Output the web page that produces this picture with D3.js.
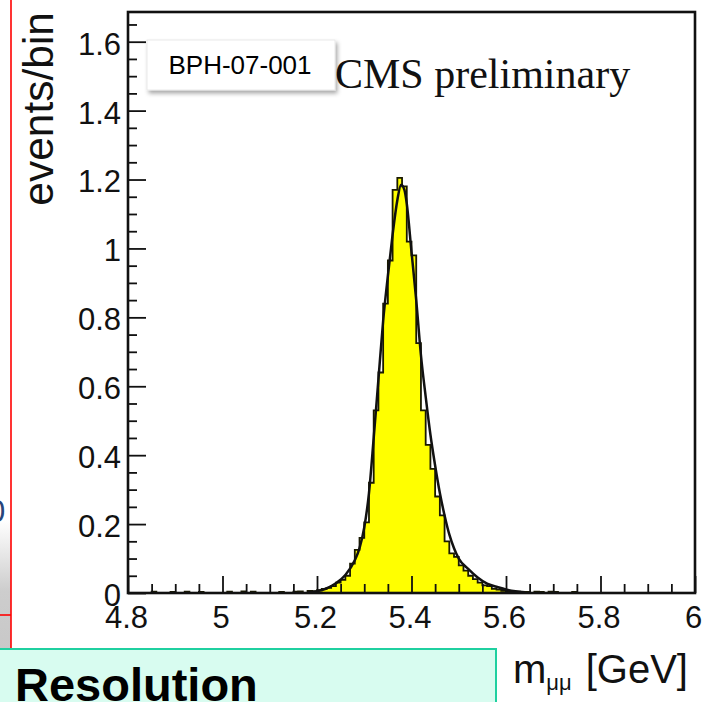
<!DOCTYPE html>
<html>
<head>
<meta charset="utf-8">
<script src="https://cdn.jsdelivr.net/npm/d3@7"></script>
<style>
  html, body { margin: 0; padding: 0; background: #fff; overflow: hidden; }
  svg { display: block; }
</style>
</head>
<body>
<svg id="chart" width="722" height="702"></svg>
<script>
// Histogram bins: lower edges of 0.01 GeV bins from 4.80 to 5.99 and their contents (events/bin)
const binWidth = 0.01;
const binLowEdges = d3.range(120).map(i => +(4.8 + i * binWidth).toFixed(2));
const binCounts = [
  0, 0, 0, 0, 0, 0.004, 0, 0, 0, 0.003,
  0, 0, 0.004, 0, 0, 0.003, 0, 0, 0, 0,
  0, 0.004, 0, 0, 0.005, 0, 0.004, 0, 0, 0,
  0, 0, 0.003, 0, 0, 0.004, 0.005, 0, 0.006, 0.005,
  0.008, 0.012, 0.015, 0.02, 0.03, 0.038, 0.05, 0.085, 0.125, 0.16,
  0.205, 0.32, 0.53, 0.64, 0.84, 0.965, 1.17, 1.205, 1.18, 1.02,
  0.98, 0.725, 0.53, 0.43, 0.36, 0.28, 0.225, 0.15, 0.115, 0.105,
  0.08, 0.065, 0.05, 0.04, 0.03, 0.022, 0.02, 0.012, 0.01, 0.006,
  0.005, 0.003, 0.004, 0, 0.003, 0, 0.004, 0.003, 0, 0.004,
  0.003, 0, 0, 0, 0.003, 0, 0, 0, 0, 0,
  0, 0, 0, 0, 0, 0, 0, 0, 0, 0,
  0, 0, 0, 0, 0, 0, 0, 0, 0, 0
];

// Fitted signal shape, sampled along the mass axis
const fitMass = [5.18, 5.20, 5.22, 5.24, 5.26, 5.28, 5.29, 5.30, 5.31, 5.32, 5.33, 5.34, 5.35, 5.36, 5.37, 5.378,
                 5.385, 5.39, 5.40, 5.41, 5.42, 5.43, 5.44, 5.45, 5.46, 5.47, 5.48, 5.49, 5.50, 5.52, 5.54, 5.56,
                 5.58, 5.60, 5.62, 5.64];
const fitValue = [0.002, 0.005, 0.013, 0.028, 0.052, 0.095, 0.13, 0.19, 0.29, 0.45, 0.62, 0.79, 0.92, 1.04, 1.14, 1.185,
                  1.17, 1.13, 0.99, 0.85, 0.69, 0.57, 0.46, 0.37, 0.29, 0.225, 0.17, 0.13, 0.10, 0.07, 0.045, 0.027,
                  0.018, 0.01, 0.005, 0.002];

// Axis ticks and labels
const xMajor = [4.8, 5.0, 5.2, 5.4, 5.6, 5.8, 6.0];
const xTickLabels = ["4.8", "5", "5.2", "5.4", "5.6", "5.8", "6"];
const yMajor = [0, 0.2, 0.4, 0.6, 0.8, 1.0, 1.2, 1.4, 1.6];
const yTickLabels = ["0", "0.2", "0.4", "0.6", "0.8", "1", "1.2", "1.4", "1.6"];
const xMinor = d3.range(0, 25).map(i => +(4.8 + i * 0.05).toFixed(2)).filter(v => !xMajor.includes(v));
const yMinor = d3.range(0, 34).map(i => +(i * 0.05).toFixed(2)).filter(v => !yMajor.includes(v));

const svg = d3.select("#chart");
const frame = { left: 128, right: 695, top: 12, bottom: 593 };

const x = d3.scaleLinear().domain([4.8, 6.0]).range([frame.left, frame.right]);
const y = d3.scaleLinear().domain([0, 1.6]).range([frame.bottom, 41.7]);

const defs = svg.append("defs");
const grad = defs.append("linearGradient").attr("id", "sideShade").attr("x1", 0).attr("y1", 0).attr("x2", 0).attr("y2", 1);
grad.append("stop").attr("offset", "0%").attr("stop-color", "#ffffff");
grad.append("stop").attr("offset", "55%").attr("stop-color", "#cdcdcd");
grad.append("stop").attr("offset", "100%").attr("stop-color", "#c8c8c8");
const shadow = defs.append("filter").attr("id", "boxShadow").attr("x", "-10%").attr("y", "-20%").attr("width", "130%").attr("height", "160%");
shadow.append("feDropShadow").attr("dx", 2).attr("dy", 3).attr("stdDeviation", 2).attr("flood-color", "#000").attr("flood-opacity", 0.35);
defs.append("clipPath").attr("id", "plotClip").append("rect")
  .attr("x", frame.left).attr("y", frame.top)
  .attr("width", frame.right - frame.left).attr("height", frame.bottom - frame.top);

// Slide elements at the left edge
svg.append("rect").attr("x", 0).attr("y", 520).attr("width", 11).attr("height", 129).attr("fill", "url(#sideShade)");
svg.append("text").attr("x", -12).attr("y", 522).attr("font-family", "Liberation Sans, Arial, sans-serif")
  .attr("font-size", 31).attr("fill", "#27457a").text("0");
svg.append("line").attr("x1", 11).attr("x2", 11).attr("y1", 0).attr("y2", 649).attr("stroke", "#ff0000").attr("stroke-width", 1.6);
svg.append("line").attr("x1", 0).attr("x2", 11).attr("y1", 615).attr("y2", 615).attr("stroke", "#ff0000").attr("stroke-width", 1.6);

// Histogram
const stepPoints = binLowEdges.map((lo, i) => [lo, binCounts[i]]);
stepPoints.push([6.0, binCounts[binCounts.length - 1]]);
const plot = svg.append("g").attr("clip-path", "url(#plotClip)");
plot.append("path").datum(stepPoints)
  .attr("fill", "#ffff00")
  .attr("d", d3.area().curve(d3.curveStepAfter).x(d => x(d[0])).y0(y(0)).y1(d => y(d[1])));
plot.append("path").datum(stepPoints)
  .attr("fill", "none").attr("stroke", "#1a1a00").attr("stroke-width", 1.8)
  .attr("d", d3.line().curve(d3.curveStepAfter).x(d => x(d[0])).y(d => y(d[1])));

// Fit curve
plot.append("path").datum(fitMass.map((m, i) => [m, fitValue[i]]))
  .attr("fill", "none").attr("stroke", "#111").attr("stroke-width", 2.5)
  .attr("d", d3.line().curve(d3.curveMonotoneX).x(d => x(d[0])).y(d => y(d[1])));

// Axes with inward ticks
const labelFont = "Liberation Sans, Arial, sans-serif";
function styleAxis(g) {
  g.select(".domain").remove();
  g.selectAll(".tick line").attr("stroke", "#111").attr("stroke-width", 1.8);
  g.selectAll(".tick text").attr("font-family", labelFont).attr("font-size", 31).attr("fill", "#111");
}
svg.append("g").attr("transform", `translate(0,${frame.bottom})`)
  .call(d3.axisBottom(x).tickValues(xMinor).tickSize(-9).tickFormat(""))
  .call(styleAxis);
svg.append("g").attr("transform", `translate(0,${frame.bottom})`)
  .call(d3.axisBottom(x).tickValues(xMajor).tickSize(-17).tickPadding(13)
    .tickFormat((d, i) => xTickLabels[i]))
  .call(styleAxis)
  .call(g => g.selectAll(".tick text").attr("dx", -2));
svg.append("g").attr("transform", `translate(${frame.left},0)`)
  .call(d3.axisLeft(y).tickValues(yMinor).tickSize(-9).tickFormat(""))
  .call(styleAxis);
svg.append("g").attr("transform", `translate(${frame.left},0)`)
  .call(d3.axisLeft(y).tickValues(yMajor).tickSize(-18).tickPadding(7)
    .tickFormat((d, i) => yTickLabels[i]))
  .call(styleAxis)
  .call(g => g.selectAll(".tick text").attr("dy", "0.4em"));

// Frame
svg.append("rect").attr("x", frame.left).attr("y", frame.top)
  .attr("width", frame.right - frame.left).attr("height", frame.bottom - frame.top)
  .attr("fill", "none").attr("stroke", "#111").attr("stroke-width", 2.6);

// Axis titles
svg.append("text").attr("transform", "translate(53,12) rotate(-90)")
  .attr("text-anchor", "end").attr("font-family", labelFont).attr("font-size", 42.5).attr("fill", "#111")
  .text("events/bin");
const xTitle = svg.append("text").attr("x", 513).attr("y", 683)
  .attr("font-family", labelFont).attr("font-size", 40).attr("fill", "#111");
xTitle.append("tspan").text("m");
xTitle.append("tspan").attr("font-size", 22).attr("dy", 7).text("μμ");
xTitle.append("tspan").attr("dy", -7).attr("dx", 14).text("[GeV]");

// Experiment label
svg.append("text").attr("x", 335).attr("y", 88)
  .attr("font-family", "Liberation Serif, Times New Roman, serif").attr("font-size", 42).attr("fill", "#111")
  .text("CMS preliminary");

// Analysis reference tag
svg.append("rect").attr("x", 147).attr("y", 40).attr("width", 188).attr("height", 50)
  .attr("fill", "#fff").attr("stroke", "#e4e4e4").attr("stroke-width", 0.8).attr("filter", "url(#boxShadow)");
svg.append("text").attr("x", 240).attr("y", 74).attr("text-anchor", "middle")
  .attr("font-family", labelFont).attr("font-size", 26).attr("fill", "#000").text("BPH-07-001");

// Caption box
svg.append("rect").attr("x", -2).attr("y", 649).attr("width", 498).attr("height", 70)
  .attr("fill", "#d8fcf0").attr("stroke", "#1fd0a0").attr("stroke-width", 2);
svg.append("text").attr("x", 15).attr("y", 701)
  .attr("font-family", labelFont).attr("font-weight", "bold").attr("font-size", 47).attr("fill", "#000")
  .text("Resolution");
</script>
</body>
</html>
